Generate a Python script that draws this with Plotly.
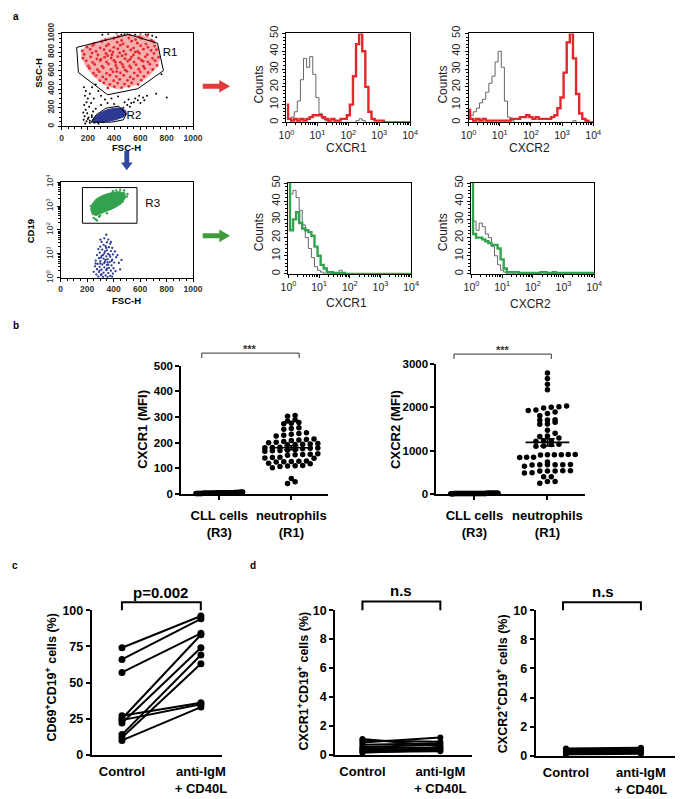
import numpy as np
import plotly.graph_objects as go

W, H = 685, 799
FONT = "Liberation Sans"

# ======================= DATA =======================
# ---- panel a, FSC/SSC dot plot ----
r1_gate_fsc = [115, 510, 730, 775, 580, 350, 128, 115]
r1_gate_ssc = [850, 990, 895, 600, 405, 340, 580, 850]
r2_gate_fsc = [226, 260, 337, 435, 492, 470, 380, 226]
r2_gate_ssc = [45, 120, 195, 218, 130, 70, 45, 45]

red_cloud_fsc = [150, 200, 330, 450, 620, 700, 745, 750, 720, 650, 560, 420, 330, 240, 180, 150]
red_cloud_ssc = [820, 880, 950, 990, 985, 930, 830, 720, 620, 520, 440, 400, 440, 540, 650, 750]
red_cells = [
    (432, 968), (518, 985), (593, 962), (652, 978),
    (334, 932), (398, 948), (457, 925), (512, 951), (563, 934), (611, 946), (684, 928),
    (248, 893), (306, 912), (357, 884), (423, 905), (468, 889), (533, 917), (577, 896), (642, 886), (702, 908),
    (193, 852), (238, 871), (294, 846), (341, 866), (398, 851), (447, 874), (503, 858), (548, 843), (602, 869), (657, 851), (708, 864),
    (158, 812), (217, 829), (262, 808), (323, 826), (368, 815), (428, 834), (472, 811), (527, 822), (578, 806), (623, 831), (681, 817), (722, 826),
    (173, 774), (232, 789), (277, 768), (338, 785), (383, 771), (442, 792), (488, 776), (547, 769), (592, 788), (652, 772), (703, 785),
    (163, 733), (222, 748), (268, 727), (327, 744), (378, 736), (428, 751), (483, 729), (532, 746), (588, 734), (637, 749), (692, 731), (738, 745),
    (188, 706), (237, 688), (293, 709), (343, 694), (398, 711), (447, 689), (503, 703), (552, 692), (608, 712), (657, 695), (712, 707),
    (203, 652), (252, 667), (308, 648), (357, 671), (413, 655), (462, 668), (518, 651), (567, 664), (623, 647), (672, 669), (727, 656),
    (213, 626), (273, 611), (318, 629), (378, 614), (422, 627), (483, 609), (528, 631), (587, 616), (632, 624), (693, 612),
    (243, 573), (287, 589), (343, 571), (392, 586), (448, 575), (497, 592), (553, 574), (598, 587), (658, 578),
    (262, 547), (313, 532), (368, 551), (417, 536), (473, 548), (522, 531), (578, 545), (627, 537),
    (292, 493), (338, 508), (397, 491), (443, 506), (502, 495), (547, 509), (607, 497),
    (322, 467), (368, 452), (427, 466), (478, 455), (533, 468), (582, 451),
    (352, 413), (402, 428), (457, 416), (512, 431),
    (350, 760), (410, 690), (460, 760), (520, 720), (390, 800), (470, 640), (560, 800), (300, 720), (620, 700), (420, 590),
]
black_cells = [
    (310, 985), (355, 995), (420, 1000), (480, 995), (560, 990), (600, 1000), (640, 992), (690, 975), (720, 960), (500, 1000), (455, 990), (660, 995),
    (170, 420), (185, 380), (178, 330), (200, 300), (190, 260), (172, 230), (210, 210), (183, 180), (165, 150), (195, 140), (175, 110), (205, 95),
    (168, 70), (190, 55), (215, 40), (180, 30), (230, 120), (240, 160), (225, 250), (215, 350), (245, 300), (232, 420),
    (250, 40), (280, 30), (320, 45), (200, 80), (215, 60), (230, 100), (260, 190), (300, 230), (350, 250), (400, 240),
    (470, 200), (500, 230), (520, 210), (550, 260), (580, 280), (600, 250), (620, 310), (650, 330), (560, 300), (530, 250),
    (480, 260), (590, 330), (630, 280), (510, 290),
    (300, 330), (280, 380), (380, 300), (430, 320), (330, 290), (260, 450), (720, 350), (800, 310), (760, 560),
]
blue_cloud_fsc = [232, 250, 290, 340, 400, 455, 488, 493, 470, 420, 360, 300, 250, 232]
blue_cloud_ssc = [58, 95, 140, 175, 195, 198, 168, 130, 100, 75, 55, 45, 45, 58]
blue_cells = [(240, 70), (270, 60), (480, 150), (430, 190), (350, 160), (300, 90), (250, 85), (460, 185)]

# ---- panel a, CD19 vs FSC dot plot (CD19 in log10 units) ----
r3_gate_fsc = [165, 577, 577, 165, 165]
r3_gate_cd19 = [2.28, 2.28, 3.77, 3.77, 2.28]
green_cloud_fsc = [228, 240, 270, 320, 380, 440, 485, 490, 460, 400, 330, 270, 240, 228]
green_cloud_cd19 = [2.85, 3.10, 3.30, 3.45, 3.55, 3.60, 3.55, 3.35, 3.10, 2.90, 2.75, 2.60, 2.65, 2.85]
green_cells = [(250, 2.5), (265, 2.45), (300, 2.6), (235, 2.9), (480, 3.65), (450, 3.68), (500, 3.4), (350, 2.7),
               (290, 2.55), (420, 3.65), (230, 3.0), (470, 3.2), (395, 3.62), (505, 3.5), (275, 2.4)]
cd19neg_cells = [
    (345, 1.80), (330, 1.65), (360, 1.60), (310, 1.50), (350, 1.48), (375, 1.42), (325, 1.38), (300, 1.30), (340, 1.32),
    (365, 1.28), (390, 1.25), (285, 1.20), (315, 1.18), (350, 1.15), (380, 1.12), (410, 1.10), (295, 1.05), (330, 1.02),
    (360, 1.00), (395, 0.98), (275, 0.95), (310, 0.92), (345, 0.90), (375, 0.88), (420, 0.86), (290, 0.82), (325, 0.80),
    (355, 0.78), (390, 0.76), (265, 0.72), (300, 0.70), (335, 0.68), (370, 0.66), (405, 0.64), (440, 0.62), (280, 0.58),
    (315, 0.56), (350, 0.54), (385, 0.52), (260, 0.48), (295, 0.46), (330, 0.44), (365, 0.42), (400, 0.40), (275, 0.36),
    (310, 0.34), (345, 0.32), (380, 0.30), (415, 0.28), (290, 0.24), (325, 0.22), (360, 0.20), (395, 0.18), (270, 0.14),
    (305, 0.12), (340, 0.10), (375, 0.08), (285, 0.05), (320, 0.04), (355, 0.03), (390, 0.05), (300, 0.60), (340, 0.75),
    (320, 0.95), (360, 0.55), (335, 1.10), (305, 0.85), (350, 0.38), (370, 0.95), (295, 0.30), (330, 0.62), (345, 1.25),
    (265, 0.60), (430, 0.95), (450, 0.35), (250, 0.25), (460, 0.75), (300, 1.60), (380, 1.50), (310, 0.15), (355, 0.65),
    (385, 0.70),
]

# ---- panel a, histograms (counts per 0.1 log-decade channel, 10^0 .. 10^4) ----
hist_log = np.linspace(0, 4, 41)
cxcr1_iso_neu = [3, 2, 3, 6, 12, 24, 36, 31, 37, 27, 14, 5, 2, 1, 0, 0, 0, 0, 0, 0, 0, 0, 0, 1, 2, 1, 0,
                 0, 0, 0, 0, 0, 0, 0, 0, 0, 0, 0, 0, 0, 0]
cxcr1_neu = [10, 2, 1, 2, 1, 2, 1, 2, 3, 4, 4, 4, 3, 2, 1, 2, 1, 1, 2, 2, 4, 10, 26, 44, 50, 40, 20, 6, 2, 1,
             1, 1, 0, 0, 0, 0, 0, 0, 0, 0, 0]
cxcr2_iso_neu = [2, 4, 6, 8, 11, 13, 17, 22, 26, 34, 40, 31, 12, 3, 1, 0, 0, 0, 0, 0, 0, 0, 0, 0, 0, 0, 0,
                 0, 0, 0, 0, 0, 0, 0, 1, 0, 0, 0, 0, 0, 0]
cxcr2_neu = [7, 2, 1, 2, 1, 2, 1, 1, 1, 1, 1, 1, 1, 1, 2, 2, 2, 3, 3, 4, 3, 2, 3, 2, 2, 2, 2, 3, 4, 8, 14,
             28, 45, 50, 36, 16, 5, 2, 1, 0, 0]
cxcr1_iso_cll = [38, 44, 46, 42, 35, 27, 20, 14, 9, 4, 2, 1, 0, 0, 0, 0, 0, 2, 0, 0, 0, 0, 0, 0, 0, 0, 0,
                 0, 0, 0, 0, 0, 0, 0, 0, 0, 0, 0, 0, 0, 0]
cxcr1_cll = [55, 24, 30, 34, 28, 25, 24, 23, 21, 15, 10, 5, 3, 1, 1, 0.5, 0.5, 0.5, 0.5, 0, 0, 0, 0, 0, 0, 0,
             0, 0, 0, 0, 0, 0, 0, 0, 0, 0, 0, 0, 0, 0, 0]
cxcr2_iso_cll = [25, 29, 24, 28, 26, 22, 20, 15, 10, 5, 2, 1, 0, 0, 0, 0, 0, 0, 0, 0, 0, 0, 0, 0, 0, 0, 0,
                 0, 0, 0, 0, 0, 0, 0, 0, 0, 0, 0, 0, 0, 0]
cxcr2_cll = [55, 22, 20, 20, 19, 18, 17, 16, 16, 14, 8, 3, 1, 1, 1, 1, 0.5, 0.5, 0.5, 0.5, 0.5, 0.5, 0.5, 1,
             1, 0.5, 0.5, 1, 0.5, 0.5, 0.5, 0.5, 0.5, 0.5, 0.5, 0.5, 0.5, 0.5, 0.5, 0.5, 0.5]
decade_labels = ["10<sup>0</sup>", "10<sup>1</sup>", "10<sup>2</sup>", "10<sup>3</sup>", "10<sup>4</sup>"]

# ---- panel b (MFI) ----
b_categories = ["CLL cells<br>(R3)", "neutrophils<br>(R1)"]
cxcr1_cll_mfi = [2, 3, 1, 4, 5, 2, 3, 6, 1, 2, 4, 3, 5, 2, 1, 3, 4, 2, 6, 3, 2, 1, 5, 3, 4, 2, 3, 1, 2, 4, 3,
                 5, 2, 7, 1, 3, 2, 4, 3, 2, 5, 1, 3, 4, 2, 3, 6, 2, 1, 3, 4, 2, 3, 5, 2]
cxcr1_neu_mfi = [306, 303, 289, 285, 279, 276, 274, 258, 255, 252, 239, 236, 233, 229, 226, 214, 212, 210, 208,
                 204, 202, 200, 197, 195, 194, 193, 192, 182, 181, 180, 179, 178, 176, 172, 170, 169, 168, 166,
                 157, 155, 154, 153, 151, 143, 142, 140, 139, 128, 127, 126, 125, 124, 120, 118, 111, 110, 109,
                 107, 102, 60, 47, 40]
cxcr2_cll_mfi = [5, 10, 8, 12, 6, 15, 9, 7, 11, 14, 4, 8, 10, 13, 6, 9, 12, 7, 5, 16, 10, 8, 11, 6, 9, 14, 7,
                 10, 12, 5, 8, 13, 9, 6, 11, 10, 7, 15, 8, 12, 9, 6, 10, 14, 7, 11, 8, 9, 13, 6, 10, 12, 7, 9, 11]
cxcr2_neu_mfi = [2790, 2660, 2530, 2400, 2030, 2010, 2000, 1980, 1935, 1925, 1890, 1855, 1800, 1710, 1705, 1700,
                 1650, 1615, 1605, 1470, 1400, 1335, 1325, 1290, 1225, 1220, 1215, 1148, 1142, 1103, 1097,
                 910, 908, 905, 903, 900, 898, 848, 845, 842, 735, 676, 674, 673, 672, 670, 668, 635,
                 533, 531, 530, 529, 527, 487, 483, 397, 393, 287, 283, 245]

# ---- panel c / d (paired %) ----
cd_categories = ["Control", "anti-IgM<br>+ CD40L"]
cd69_control = [74, 66, 57, 27, 25, 24, 22, 14, 12, 10]
cd69_stim = [96, 94, 84, 36, 83, 35, 74, 69, 63, 33]
cxcr1_control = [1.1, 1.0, 0.85, 0.7, 0.55, 0.45, 0.35, 0.3, 0.2, 0.15]
cxcr1_stim = [0.6, 0.9, 1.2, 0.8, 0.7, 0.5, 0.3, 0.45, 0.25, 0.35]
cxcr2_control = [0.5, 0.45, 0.4, 0.35, 0.3, 0.3, 0.25, 0.2, 0.15, 0.1]
cxcr2_stim = [0.55, 0.4, 0.45, 0.3, 0.35, 0.25, 0.3, 0.2, 0.2, 0.15]

# ======================= COLOURS =======================
RED = "#e5262b"
GREEN = "#33a24f"
NAVY = "#2c3a94"
GREY = "#555555"
ARROW_RED = "#e23a3a"
ARROW_GREEN = "#3f9a3a"
ARROW_BLUE = "#2f47a0"

# ======================= HELPERS =======================
def PX(px):
    return px / W


def PY(py):
    return 1 - py / H


def dom_x(a, b):
    return [PX(a), PX(b)]


def dom_y(top, bottom):
    return [PY(bottom), PY(top)]


def unzip(pairs):
    return [p[0] for p in pairs], [p[1] for p in pairs]


def swarm(vals, bin_w, step, half_w):
    v = np.asarray(vals, float)
    off = np.zeros(len(v))
    bins = np.floor(v / bin_w)
    for k, b in enumerate(np.unique(bins)):
        idx = np.where(bins == b)[0]
        idx = idx[np.argsort(v[idx])]
        n = len(idx)
        o = (np.arange(n) - (n - 1) / 2) * step
        if n > 1 and o[-1] > half_w:
            o = np.linspace(-half_w, half_w, n)
        off[idx] = o
    return off


fig = go.Figure()
axes = {}
annotations = []
shapes = []


def add_axes(i, xd, yd, xcfg, ycfg):
    axes["xaxis" + (str(i) if i > 1 else "")] = dict(domain=xd, anchor="y" + str(i), **xcfg)
    axes["yaxis" + (str(i) if i > 1 else "")] = dict(domain=yd, anchor="x" + str(i), **ycfg)


def ann(text, x, y, size, bold=False, angle=0, xanchor="center", color="black", family=FONT):
    annotations.append(dict(text=text, x=PX(x), y=PY(y), xref="paper", yref="paper", showarrow=False,
                            xanchor=xanchor, yanchor="middle", textangle=angle,
                            font=dict(family=family, size=size, color=color,
                                      weight="bold" if bold else "normal")))


# ---------- flow dot plot axes ----------
flow_common = dict(showline=True, linecolor="black", linewidth=1, mirror=True, showgrid=False, zeroline=False,
                   ticks="outside", ticklen=3, tickwidth=1, tickcolor="black")
minor_log = [k + np.log10(m) for k in range(4) for m in range(2, 10)]

lin_x = dict(flow_common, range=[0, 1000], tickvals=[0, 200, 400, 600, 800, 1000],
             minor=dict(dtick=50, ticks="outside", ticklen=2, tickcolor="black"),
             tickfont=dict(family=FONT, size=8.5, color="#333", weight="bold"), ticklabelstandoff=0)
lin_y = dict(lin_x, tickangle=-90)
log_y = dict(flow_common, range=[0, 4], tickvals=[0, 1, 2, 3, 4], ticktext=decade_labels, tickangle=-90,
             minor=dict(tickvals=minor_log, ticks="outside", ticklen=2, tickcolor="black"),
             tickfont=dict(family=FONT, size=8.5, color="#333"))

add_axes(1, dom_x(55, 190), dom_y(23, 118), lin_x, lin_y)
add_axes(4, dom_x(54, 190), dom_y(175, 273), lin_x, log_y)

# ---------- histogram axes ----------
hist_x = dict(flow_common, range=[0, 4], tickvals=[0, 1, 2, 3, 4], ticktext=decade_labels, ticklen=3,
              minor=dict(tickvals=minor_log, ticks="outside", ticklen=2, tickcolor="black"),
              tickfont=dict(family=FONT, size=10.5, color="#222"), ticklabelstandoff=0)
hist_y = dict(flow_common, range=[0, 50], tickvals=[0, 10, 20, 30, 40, 50], tickangle=-90,
              minor=dict(dtick=2, ticks="outside", ticklen=2, tickcolor="black"),
              tickfont=dict(family=FONT, size=11, color="#222"))
add_axes(2, dom_x(286, 413), dom_y(23, 114), hist_x, hist_y)
add_axes(3, dom_x(473, 601), dom_y(23, 114), hist_x, hist_y)
add_axes(5, dom_x(288, 414), dom_y(176, 269), hist_x, hist_y)
add_axes(6, dom_x(476, 602), dom_y(176, 269), hist_x, hist_y)

# ---------- panel b / c / d axes ----------
stat_common = dict(showline=True, linecolor="black", linewidth=2, showgrid=False, zeroline=False,
                   ticks="outside", ticklen=4, tickwidth=2, tickcolor="black")
bold11 = dict(family=FONT, size=11.5, color="black", weight="bold")
bold12 = dict(family=FONT, size=12.5, color="black", weight="bold")
bold13 = dict(family=FONT, size=13, color="black", weight="bold")

b_x = dict(stat_common, tickvals=[0, 1], ticktext=b_categories, tickfont=bold13, ticklabelstandoff=5)
add_axes(7, dom_x(178, 329), dom_y(363, 494), dict(b_x, range=[-0.527, 1.514]),
         dict(stat_common, range=[0, 500], tickvals=[0, 100, 200, 300, 400, 500], tickfont=bold11))
add_axes(8, dom_x(440, 593), dom_y(361, 494), dict(b_x, range=[-0.52, 1.52]),
         dict(stat_common, range=[0, 3000], tickvals=[0, 1000, 2000, 3000], tickfont=bold11))

cd_x = dict(stat_common, tickvals=[0, 1], ticktext=cd_categories, tickfont=bold13, ticks="", ticklabelstandoff=4)
add_axes(9, dom_x(86, 220), dom_y(613, 761), dict(cd_x, range=[-0.383, 1.27]),
         dict(stat_common, range=[0, 100], tickvals=[0, 25, 50, 75, 100], tickfont=bold12))
add_axes(10, dom_x(336, 477), dom_y(613, 761), dict(cd_x, range=[-0.35, 1.4125]),
         dict(stat_common, range=[0, 10], tickvals=[0, 2, 4, 6, 8, 10], tickfont=bold12))
add_axes(11, dom_x(542, 685), dom_y(613, 762), dict(cd_x, range=[-0.403, 1.454]),
         dict(stat_common, range=[0, 10], tickvals=[0, 2, 4, 6, 8, 10], tickfont=bold12))

# ======================= TRACES =======================
def sc(i, **kw):
    kw.setdefault("hoverinfo", "skip")
    fig.add_trace(go.Scatter(xaxis="x" + (str(i) if i > 1 else ""), yaxis="y" + (str(i) if i > 1 else ""), **kw))


# --- FSC/SSC plot ---
sc(1, x=red_cloud_fsc, y=red_cloud_ssc, mode="lines", fill="toself", fillcolor="rgba(232,60,60,0.42)",
   line=dict(width=0, color="rgba(0,0,0,0)"))
bx, by = unzip(black_cells)
sc(1, x=bx, y=by, mode="markers", marker=dict(size=2, color="black"))
rx, ry = unzip(red_cells)
sc(1, x=rx, y=ry, mode="markers", marker=dict(size=2.8, color=RED))
sc(1, x=blue_cloud_fsc, y=blue_cloud_ssc, mode="lines", fill="toself", fillcolor=NAVY,
   line=dict(width=1, color=NAVY))
ux, uy = unzip(blue_cells)
sc(1, x=ux, y=uy, mode="markers", marker=dict(size=2.4, color=NAVY))
sc(1, x=r1_gate_fsc, y=r1_gate_ssc, mode="lines", line=dict(width=1, color="black"))
sc(1, x=r2_gate_fsc, y=r2_gate_ssc, mode="lines", line=dict(width=1, color="black"))
sc(1, x=[770], y=[790], mode="text", text=["R1"], textposition="middle right",
   textfont=dict(family=FONT, size=11.5, color="black"))
sc(1, x=[495], y=[112], mode="text", text=["R2"], textposition="middle right",
   textfont=dict(family=FONT, size=11.5, color="black"))

# --- CD19 / FSC plot ---
sc(4, x=green_cloud_fsc, y=green_cloud_cd19, mode="lines", fill="toself", fillcolor=GREEN,
   line=dict(width=1, color=GREEN))
gx, gy = unzip(green_cells)
sc(4, x=gx, y=gy, mode="markers", marker=dict(size=2.4, color=GREEN))
nx, ny = unzip(cd19neg_cells)
sc(4, x=nx, y=ny, mode="markers", marker=dict(size=2.3, color=NAVY))
sc(4, x=r3_gate_fsc, y=r3_gate_cd19, mode="lines", line=dict(width=1, color="black"))
sc(4, x=[640], y=[3.08], mode="text", text=["R3"], textposition="middle right",
   textfont=dict(family=FONT, size=11.5, color="black"))

# --- histograms ---
def hist(i, iso, stained, color):
    sc(i, x=hist_log[:len(iso)], y=iso, mode="lines", line=dict(width=0.9, color=GREY, shape="hvh"))
    sc(i, x=hist_log[:len(stained)], y=stained, mode="lines", line=dict(width=2.4, color=color, shape="hvh"))


hist(2, cxcr1_iso_neu, cxcr1_neu, RED)
hist(3, cxcr2_iso_neu, cxcr2_neu, RED)
hist(5, cxcr1_iso_cll, cxcr1_cll, GREEN)
hist(6, cxcr2_iso_cll, cxcr2_cll, GREEN)

# --- panel b ---
def dotgroup(i, vals, center, bin_w, step, half_w, mean_hw):
    off = swarm(vals, bin_w, step, half_w)
    sc(i, x=center + off, y=vals, mode="markers", marker=dict(size=5.5, color="black"), cliponaxis=False)
    v = np.asarray(vals, float)
    m = v.mean()
    se = v.std(ddof=1) / np.sqrt(len(v))
    sc(i, x=[center - mean_hw, center + mean_hw], y=[m, m], mode="lines", line=dict(width=1.6, color="black"),
       cliponaxis=False)
    sc(i, x=[center, center, None, center - 0.1, center + 0.1, None, center - 0.1, center + 0.1],
       y=[m - se, m + se, None, m - se, m - se, None, m + se, m + se], mode="lines",
       line=dict(width=1.6, color="black"))


dotgroup(7, cxcr1_cll_mfi, 0, 1000, 0.012, 0.34, 0.3)
dotgroup(7, cxcr1_neu_mfi, 1, 20, 0.105, 0.38, 0.3)
dotgroup(8, cxcr2_cll_mfi, 0, 5000, 0.012, 0.34, 0.3)
dotgroup(8, cxcr2_neu_mfi, 1, 120, 0.105, 0.38, 0.3)

# --- panels c, d ---
def paired(i, ctrl, stim, msize):
    xs, ys = [], []
    for a, b in zip(ctrl, stim):
        xs += [0, 1, None]
        ys += [a, b, None]
    sc(i, x=xs, y=ys, mode="lines+markers", line=dict(width=2, color="black"),
       marker=dict(size=msize, color="black"), cliponaxis=False)


paired(9, cd69_control, cd69_stim, 7)
paired(10, cxcr1_control, cxcr1_stim, 6)
paired(11, cxcr2_control, cxcr2_stim, 6)

# ======================= BRACKETS / ARROWS / TEXT =======================
def bracket(x0, x1, ytop, ybot, width, color="black"):
    shapes.append(dict(type="path", xref="paper", yref="paper",
                       path=f"M{PX(x0)},{PY(ybot)} L{PX(x0)},{PY(ytop)} L{PX(x1)},{PY(ytop)} L{PX(x1)},{PY(ybot)}",
                       line=dict(width=width, color=color)))


bracket(199, 299, 350, 355, 1, "#333")
bracket(458, 558, 351, 356, 1, "#333")
bracket(117, 198, 605, 613, 2)
bracket(364, 444, 604, 613, 2)
bracket(570, 650, 605, 613, 2)


def poly(points, color):
    d = "M" + " L".join(f"{PX(x)},{PY(y)}" for x, y in points) + " Z"
    shapes.append(dict(type="path", xref="paper", yref="paper", path=d, fillcolor=color,
                       line=dict(width=0, color=color)))


poly([(200, 74.5), (217, 74.5), (217, 70.5), (228, 77), (217, 83.5), (217, 79.5), (200, 79.5)], ARROW_RED)
poly([(200, 227.5), (217, 227.5), (217, 223.5), (228, 230), (217, 236.5), (217, 232.5), (200, 232.5)], ARROW_GREEN)
poly([(119.5, 143), (124.5, 143), (124.5, 155), (128, 155), (122, 163), (116, 155), (119.5, 155)], ARROW_BLUE)

# panel letters
ann("a", 8, 6, 10, bold=True)
ann("b", 8, 322, 10, bold=True)
ann("c", 7, 567, 10, bold=True)
ann("d", 252, 567, 10, bold=True)

# panel a axis titles
ann("SSC-H", 31, 63, 9.5, bold=True, angle=-90)
ann("FSC-H", 122, 140, 9.5, bold=True)
ann("CD19", 24, 225, 9.5, bold=True, angle=-90)
ann("FSC-H", 122, 296, 9.5, bold=True)
for cx, cy in [(258, 75), (447, 75), (258, 226), (447, 226)]:
    ann("Counts", cx, cy, 12, angle=-90, color="#222")
ann("CXCR1", 348, 140, 12, color="#222")
ann("CXCR2", 536, 140, 12, color="#222")
ann("CXCR1", 348, 299, 12, color="#222")
ann("CXCR2", 537, 300, 12, color="#222")

# panel b text
ann("CXCR1 (MFI)", 138, 428, 13, bold=True, angle=-90)
ann("CXCR2 (MFI)", 398, 428, 13, bold=True, angle=-90)
ann("***", 249, 346, 11, bold=True, color="#333")
ann("***", 508, 347, 11, bold=True, color="#333")

# panel c / d text
ann("CD69<sup>+</sup>CD19<sup>+</sup> cells (%)", 44, 682, 12.5, bold=True, angle=-90)
ann("CXCR1<sup>+</sup>CD19<sup>+</sup> cells (%)", 302, 686, 12.5, bold=True, angle=-90)
ann("CXCR2<sup>+</sup>CD19<sup>+</sup> cells (%)", 507, 688, 12.5, bold=True, angle=-90)
ann("p=0.002", 157, 595, 15, bold=True)
ann("n.s", 404, 593, 15, bold=True)
ann("n.s", 611, 594, 15, bold=True)

fig.update_layout(width=W, height=H, margin=dict(l=0, r=0, t=0, b=0), paper_bgcolor="white",
                  plot_bgcolor="white", showlegend=False, hovermode=False,
                  font=dict(family=FONT, color="black"), annotations=annotations, shapes=shapes, **axes)

fig.write_html("out.html", post_script="document.body.style.margin='0px';",
               config={"displayModeBar": False})
